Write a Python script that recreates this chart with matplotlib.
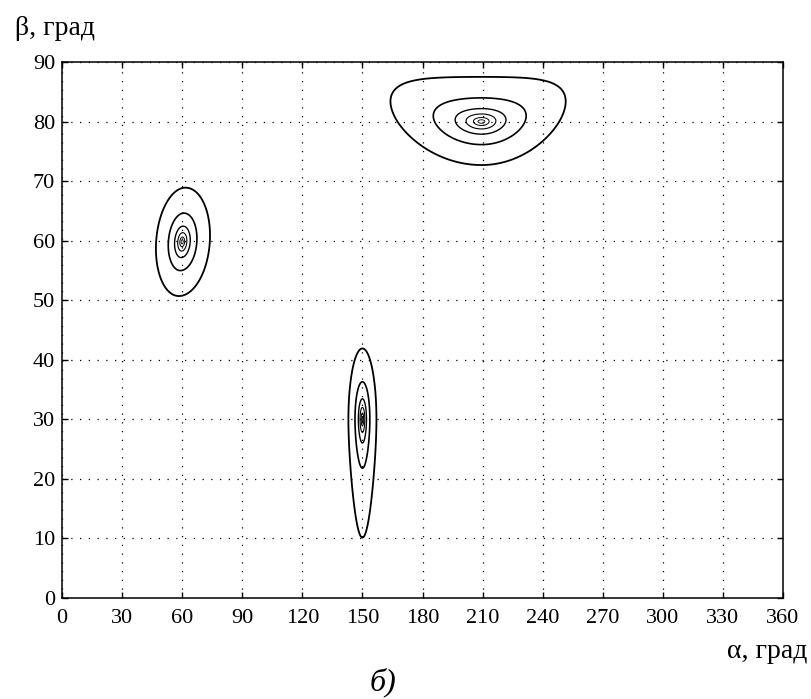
import numpy as np
import matplotlib
matplotlib.use("Agg")
import matplotlib.pyplot as plt

# ---- data -------------------------------------------------------------
alpha_ticks = list(range(0, 361, 30))
beta_ticks = list(range(0, 91, 10))

# three maxima of the surface (centre and outer-contour extents, degrees)
peak_alpha = [60.0, 150.0, 209.5]
peak_beta = [59.8, 30.0, 80.0]
sigma_left = [13.0, 7.0, 45.5]
sigma_right = [13.8, 7.0, 42.0]
sigma_up = [9.1, 11.9, 7.5]
sigma_down = [9.1, 11.9, 7.3]
tail_down = [0.0, 0.95, 0.0]   # stretching of the lower part
bend = [0.0, 0.0, 0.45]        # flat top / pointed bottom
shear = [0.18, 0.0, 0.0]       # tilt of the contours
ring_radius = [1.0, 0.53, 0.29, 0.17, 0.09, 0.04]
ring_width = [1.3, 1.2, 1.0, 0.8, 0.7, 0.6]

# ---- field ------------------------------------------------------------
a = np.linspace(0, 360, 1441)
b = np.linspace(0, 90, 721)
A, B = np.meshgrid(a, b)
Z = np.zeros_like(A)
for i in range(len(peak_alpha)):
    dy = B - peak_beta[i]
    dx = A - peak_alpha[i] - shear[i] * dy
    u = np.where(dx < 0, dx / sigma_left[i], dx / sigma_right[i])
    v = np.where(dy < 0, dy / sigma_down[i], dy / sigma_up[i])
    if tail_down[i] > 0:
        c = tail_down[i]
        v = np.where(v < 0, -np.log1p(c * np.abs(v)) / c, v)
    v = v - bend[i] * u ** 2
    Z = np.maximum(Z, np.exp(-(u ** 2 + v ** 2)))

lv = np.exp(-np.array(ring_radius) ** 2)
order = np.argsort(lv)
levels = list(lv[order])
widths = [ring_width[k] for k in order]

# ---- figure -----------------------------------------------------------
plt.rcParams["font.family"] = ["Liberation Serif", "DejaVu Serif"]
fig = plt.figure(figsize=(8.11, 6.99), dpi=100)
ax = fig.add_axes([62 / 811, 1 - 598 / 699, (783 - 62) / 811, (598 - 62) / 699])

ax.contour(A, B, Z, levels=levels, colors="black", linewidths=widths)

ax.set_xlim(0, 360)
ax.set_ylim(0, 90)
ax.set_xticks(alpha_ticks)
ax.set_yticks(beta_ticks)
ax.tick_params(direction="in", length=4, width=1, top=True, right=True,
               labelsize=16)
ax.tick_params(axis="x", pad=8)
ax.tick_params(axis="y", pad=5)
ax.grid(True, color="black", linestyle=(0, (1, 6)), linewidth=0.9)
for s in ax.spines.values():
    s.set_linewidth(1.1)

fig.text(15 / 811, 1 - 35 / 699, "β, град", fontsize=20, ha="left", va="baseline")
fig.text(807 / 811, 1 - 658 / 699, "α, град", fontsize=20, ha="right", va="baseline")
fig.text(383 / 811, 1 - 690 / 699, "б)", fontsize=23, style="italic",
         ha="center", va="baseline")

fig.savefig("out.png", dpi=100)
